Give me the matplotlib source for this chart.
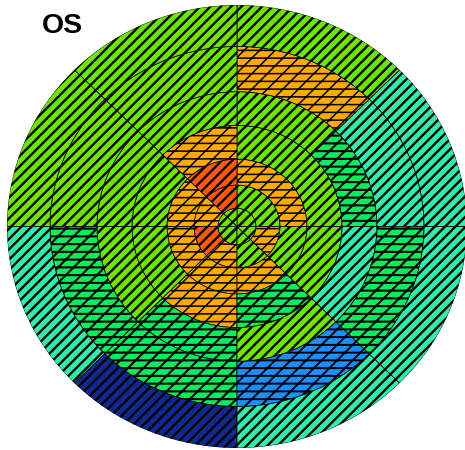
import numpy as np
import matplotlib
matplotlib.use('Agg')
import matplotlib.pyplot as plt

# ---- data ----
ring_edges = [0, 19, 43, 70, 105, 140, 187, 230]          # radial boundaries
sector_starts = [0, 45, 90, 135, 180, 225, 270, 315]       # degrees, CCW from East
sector_width = 45
# category codes per ring (inner -> outer), sectors in sector_starts order
ring0 = ['G', 'G', 'G', 'G', 'G', 'G', 'G', 'G']
ring1 = ['G', 'G', 'R', 'O', 'R', 'O', 'G', 'O']
ring2 = ['O', 'O', 'R', 'O', 'O', 'O', 'O', 'G']
ring3 = ['G', 'G', 'O', 'G', 'G', 'O', 'S', 'G']
ring4 = ['S', 'G', 'G', 'G', 'G', 'S', 'G', 'T']
ring5 = ['T', 'O', 'G', 'G', 'S', 'S', 'B', 'S']
ring6 = ['T', 'G', 'G', 'G', 'T', 'N', 'T', 'T']
rings = [ring0, ring1, ring2, ring3, ring4, ring5, ring6]
title = 'OS'

# ---- style ----
fills = {'R': '#FF5A0A', 'O': '#FFAA00', 'G': '#6CE600', 'S': '#0BEB5E',
         'T': '#33ECAA', 'B': '#1A8FFF', 'N': '#0F2A8E'}
hatches = {'R': '///', 'O': '//--', 'G': '///', 'S': '//--',
           'T': '///', 'B': '//--', 'N': '///'}
hatch_lw = {'R': 1.8, 'O': 1.2, 'G': 1.8, 'S': 1.6, 'T': 1.8, 'B': 1.5, 'N': 1.8}

plt.rcParams['hatch.linewidth'] = 1.7

DPI = 93
fig = plt.figure(figsize=(465 / DPI, 450 / DPI), dpi=DPI)
ax = fig.add_axes([7/465, 2/450, 460/465, 443/450], projection='polar')
ax.set_aspect('auto')

for i, ring in enumerate(rings):
    r_in, r_out = ring_edges[i], ring_edges[i + 1]
    for start, code in zip(sector_starts, ring):
        bars = ax.bar(np.deg2rad(start), r_out - r_in, width=np.deg2rad(sector_width),
                      bottom=r_in, align='edge', color=fills[code], hatch=hatches[code],
                      edgecolor='black', linewidth=0.6)
        for p in bars:
            if hasattr(p, 'set_hatch_linewidth'):
                p.set_hatch_linewidth(hatch_lw[code])

ax.set_ylim(0, ring_edges[-1])
ax.set_xticks([])
ax.set_yticks([])
ax.grid(False)
ax.spines['polar'].set_visible(False)

fig.text(42/465, 1 - 33/450, title, fontsize=22, fontweight='bold',
         family=['Liberation Sans', 'DejaVu Sans'], va='baseline', ha='left')

fig.savefig('out.png', dpi=DPI)
